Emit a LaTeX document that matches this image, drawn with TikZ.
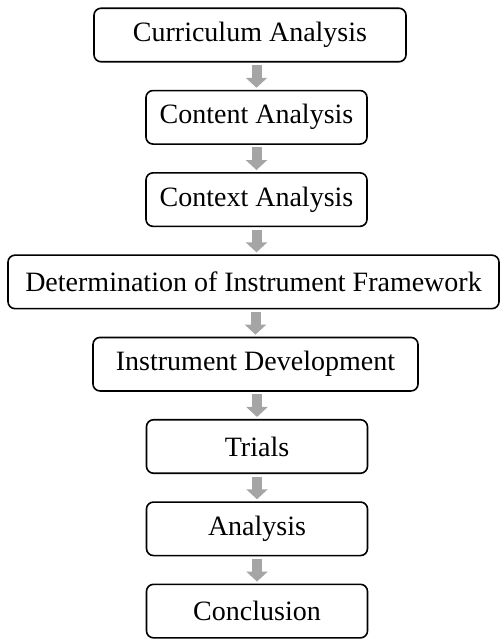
\documentclass[tikz,border=0pt]{standalone}
\usepackage{fontspec}
\setmainfont{Liberation Serif}
\usepackage{xcolor}
\usepackage{tikz}
\usetikzlibrary{arrows.meta, positioning, calc}
\definecolor{stepgray}{HTML}{A5A5A5}

\begin{document}
\begin{tikzpicture}[
    node distance=27.2pt,
    box/.style={draw, rounded corners=7pt, align=center, minimum height=53.5pt, font=\fontsize{28pt}{32pt}\selectfont, inner sep=0pt, line width=1.6pt},
    small/.style={box, minimum width=221pt},
    flow/.style={-{Triangle[width=21pt, length=10pt]}, line width=10pt, stepgray, shorten <=2.5pt, shorten >=2pt},
]
\useasboundingbox (0,0) rectangle (500pt,-640pt);
% Main path
\node[box, minimum width=312pt] (curric) at (250pt,-35pt) {Curriculum Analysis};
\node[small, below=of curric, xshift=6.5pt] (content) {Content Analysis};
\node[small, below=of content] (context) {Context Analysis};
\node[box, minimum width=491pt, below=of context, xshift=-3pt] (frame) {Determination of Instrument Framework};
\node[box, minimum width=325pt, below=of frame, xshift=2pt] (develop) {Instrument Development};
\node[small, below=of develop, xshift=1.5pt] (trials) {Trials};
\node[small, below=of trials] (analysis) {Analysis};
\node[small, below=of analysis] (concl) {Conclusion};
% grey block arrows between the steps
\draw[flow] (curric.south -| content.north) -- (content.north);
\draw[flow] (content) -- (context);
\draw[flow] (context.south) -- (context.south |- frame.north);
\draw[flow] (frame.south -| develop.north) -- (develop.north);
\draw[flow] (develop.south -| trials.north) -- (trials.north);
\draw[flow] (trials) -- (analysis);
\draw[flow] (analysis) -- (concl);
\end{tikzpicture}
\end{document}
